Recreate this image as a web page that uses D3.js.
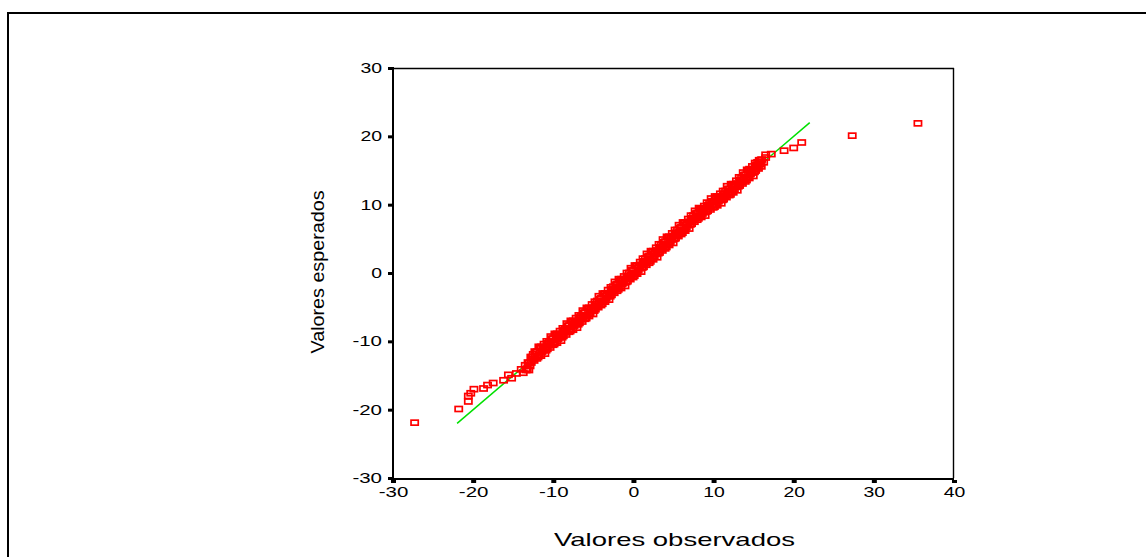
<!DOCTYPE html>
<html><head><meta charset="utf-8">
<script src="https://cdn.jsdelivr.net/npm/d3@7"></script>
<style>body{margin:0;background:#fff}svg{display:block}text{font-family:"Liberation Sans",Arial,sans-serif}</style>
</head><body>
<svg id="c" width="1146" height="557"></svg>
<script>
const xTicks = [-30,-20,-10,0,10,20,30,40];
const yTicks = [-30,-20,-10,0,10,20,30];
const xLabel = "Valores observados";
const yLabel = "Valores esperados";
const refLine = [-22, 22];
// tails (isolated points)
const tailObserved = [-27.3,-21.8,-20.6,-20.6,-20.3,-19.9,-18.7,-18.2,-17.5,-16.2,-15.6,-15.2,-14.6,
  16.5,17.2,18.8,20.0,21.0,27.3,35.5];
const tailExpected = [-21.9,-19.9,-18.8,-18.0,-17.6,-17.0,-16.9,-16.4,-16.1,-15.7,-14.9,-15.4,-14.7,
  17.3,17.4,17.9,18.3,19.1,20.1,21.9];
// dense central band, part A
const bandAObserved = [
 -14,-13.75,-13.5,-13.25,-13,-12.75,-12.5,-12.25,
 -12,-11.75,-11.5,-11.25,-11,-10.75,-10.5,-10.25,
 -10,-9.75,-9.5,-9.25,-9,-8.75,-8.5,-8.25,
 -8,-7.75,-7.5,-7.25,-7,-6.75,-6.5,-6.25,
 -6,-5.75,-5.5,-5.25,-5,-4.75,-4.5,-4.25,
 -4,-3.75,-3.5,-3.25,-3,-2.75,-2.5,-2.25,
 -2,-1.75,-1.5,-1.25,-1,-0.75,-0.5,-0.25,
 0,0.25,0.5,0.75,1,1.25,1.5,1.75,
 2,2.25,2.5,2.75,3,3.25,3.5,3.75,
 4,4.25,4.5,4.75,5,5.25,5.5,5.75,
 6,6.25,6.5,6.75,7,7.25,7.5,7.75,
 8,8.25,8.5,8.75,9,9.25,9.5,9.75,
 10,10.25,10.5,10.75,11,11.25,11.5,11.75,
 12,12.25,12.5,12.75,13,13.25,13.5,13.75,
 14,14.25,14.5,14.75,15,15.25,15.5,15.75,
 16,16.25,16.5
];
const bandAExpected = [
 -14.1,-14.6,-13.5,-14.0,-13.2,-13.1,-11.9,-12.2,
 -11.5,-12.0,-10.8,-11.3,-10.9,-11.1,-10.0,-10.2,
 -9.6,-10.1,-8.9,-9.4,-9.0,-9.2,-8.1,-8.3,
 -7.7,-8.2,-7.0,-7.5,-7.1,-7.3,-6.2,-6.4,
 -5.8,-6.2,-5.1,-5.5,-5.1,-5.3,-4.1,-4.4,
 -3.7,-4.1,-3.0,-3.4,-3.0,-3.2,-2.0,-2.3,
 -1.6,-2.1,-0.9,-1.4,-0.9,-1.2,0.0,-0.3,
 0.4,0.0,1.1,0.7,1.2,0.9,2.1,1.8,
 2.5,2.1,3.2,2.8,3.3,3.0,4.2,3.9,
 4.6,4.2,5.3,4.9,5.4,5.1,6.3,6.0,
 6.7,6.3,7.4,7.0,7.5,7.2,8.4,8.1,
 8.8,8.3,9.4,8.9,9.4,9.1,10.2,9.9,
 10.5,10.0,11.2,10.7,11.1,10.8,12.0,11.7,
 12.3,11.9,13.0,12.6,13.1,12.8,14.0,13.7,
 14.4,14.0,15.2,14.7,15.2,15.0,16.2,15.9,
 16.6,16.2,16.9
];
// dense central band, part B
const bandBObserved = [
 -13.4,-13.15,-12.9,-12.65,-12.4,-12.15,
 -11.9,-11.65,-11.4,-11.15,-10.9,-10.65,-10.4,-10.15,
 -9.9,-9.65,-9.4,-9.15,-8.9,-8.65,-8.4,-8.15,
 -7.9,-7.65,-7.4,-7.15,-6.9,-6.65,-6.4,-6.15,
 -5.9,-5.65,-5.4,-5.15,-4.9,-4.65,-4.4,-4.15,
 -3.9,-3.65,-3.4,-3.15,-2.9,-2.65,-2.4,-2.15,
 -1.9,-1.65,-1.4,-1.15,-0.9,-0.65,-0.4,-0.15,
 0.1,0.35,0.6,0.85,1.1,1.35,1.6,1.85,
 2.1,2.35,2.6,2.85,3.1,3.35,3.6,3.85,
 4.1,4.35,4.6,4.85,5.1,5.35,5.6,5.85,
 6.1,6.35,6.6,6.85,7.1,7.35,7.6,7.85,
 8.1,8.35,8.6,8.85,9.1,9.35,9.6,9.85,
 10.1,10.35,10.6,10.85,11.1,11.35,11.6,11.85,
 12.1,12.35,12.6,12.85,13.1,13.35,13.6,13.85,
 14.1,14.35,14.6,14.85,15.1,15.35,15.6,15.85
];
const bandBExpected = [
 -14.2,-13.1,-13.6,-12.3,-12.8,-11.6,
 -12.3,-11.0,-11.5,-10.4,-11.3,-10.3,-10.9,-9.6,
 -10.4,-9.1,-9.6,-8.5,-9.4,-8.4,-9.0,-7.7,
 -8.5,-7.2,-7.7,-6.6,-7.5,-6.5,-7.1,-5.8,
 -6.6,-5.2,-5.8,-4.6,-5.5,-4.5,-5.0,-3.8,
 -4.5,-3.1,-3.7,-2.5,-3.4,-2.4,-2.9,-1.7,
 -2.4,-1.1,-1.6,-0.5,-1.3,-0.4,-0.9,0.4,
 -0.4,1.0,0.4,1.6,0.8,1.7,1.2,2.4,
 1.7,3.1,2.5,3.7,2.9,3.8,3.3,4.5,
 3.8,5.2,4.6,5.8,5.0,5.9,5.4,6.6,
 5.9,7.3,6.7,7.9,7.1,8.0,7.5,8.7,
 8.0,9.3,8.7,9.8,9.0,9.9,9.3,10.5,
 9.7,11.0,10.5,11.6,10.7,11.6,11.1,12.3,
 11.5,12.9,12.3,13.5,12.7,13.6,13.1,14.3,
 13.6,15.0,14.5,15.6,14.8,15.8,15.3,16.5
];
// dense central band, part C
const bandCObserved = [
 -13.05,-12.8,-12.55,-12.3,-12.05,
 -11.8,-11.55,-11.3,-11.05,-10.8,-10.55,-10.3,-10.05,
 -9.8,-9.55,-9.3,-9.05,-8.8,-8.55,-8.3,-8.05,
 -7.8,-7.55,-7.3,-7.05,-6.8,-6.55,-6.3,-6.05,
 -5.8,-5.55,-5.3,-5.05,-4.8,-4.55,-4.3,-4.05,
 -3.8,-3.55,-3.3,-3.05,-2.8,-2.55,-2.3,-2.05,
 -1.8,-1.55,-1.3,-1.05,-0.8,-0.55,-0.3,-0.05,
 0.2,0.45,0.7,0.95,1.2,1.45,1.7,1.95,
 2.2,2.45,2.7,2.95,3.2,3.45,3.7,3.95,
 4.2,4.45,4.7,4.95,5.2,5.45,5.7,5.95,
 6.2,6.45,6.7,6.95,7.2,7.45,7.7,7.95,
 8.2,8.45,8.7,8.95,9.2,9.45,9.7,9.95,
 10.2,10.45,10.7,10.95,11.2,11.45,11.7,11.95,
 12.2,12.45,12.7,12.95,13.2,13.45,13.7,13.95,
 14.2,14.45,14.7,14.95,15.2,15.45,15.7,15.95
];
const bandCExpected = [
 -14.2,-12.3,-12.6,-11.5,-12.5,
 -10.8,-12.1,-11.0,-11.8,-10.0,-10.6,-9.3,-10.5,
 -8.9,-10.2,-9.1,-9.9,-8.1,-8.7,-7.4,-8.6,
 -7.0,-8.3,-7.2,-8.0,-6.2,-6.8,-5.5,-6.7,
 -5.1,-6.3,-5.3,-6.0,-4.2,-4.8,-3.4,-4.7,
 -3.0,-4.2,-3.2,-3.9,-2.1,-2.7,-1.3,-2.6,
 -0.9,-2.2,-1.1,-1.9,0.0,-0.7,0.7,-0.6,
 1.1,-0.1,0.9,0.2,2.1,1.4,2.8,1.5,
 3.2,2.0,3.0,2.3,4.2,3.5,4.9,3.6,
 5.3,4.1,5.1,4.4,6.3,5.6,7.0,5.7,
 7.4,6.2,7.2,6.5,8.4,7.7,9.1,7.8,
 9.5,8.2,9.2,8.4,10.3,9.6,10.9,9.6,
 11.2,9.9,11.0,10.2,12.0,11.3,12.7,11.4,
 13.0,11.8,12.8,12.1,14.0,13.3,14.7,13.4,
 15.1,13.9,15.0,14.2,16.1,15.5,16.5,15.6
];

const svg = d3.select("#c");
const L = 393, R = 954, T = 68, B = 478;
const x = d3.scaleLinear().domain([-30, 40]).range([L, R]);
const y = d3.scaleLinear().domain([-30, 30]).range([B, T]);

// outer frame
svg.append("rect").attr("x", 8).attr("y", 13).attr("width", 1160).attr("height", 570)
  .attr("fill", "none").attr("stroke", "#000").attr("stroke-width", 2);

// plot box
svg.append("line").attr("x1", L).attr("x2", R).attr("y1", T + 0.5).attr("y2", T + 0.5).attr("stroke", "#000").attr("stroke-width", 1.4);
svg.append("line").attr("x1", R - 0.5).attr("x2", R - 0.5).attr("y1", T).attr("y2", B).attr("stroke", "#000").attr("stroke-width", 1.4);

// axes
const fmt = d => String(d);
const ya = svg.append("g").attr("transform", `translate(${L - 1},0)`)
  .call(d3.axisLeft(y).tickValues(yTicks).tickFormat(fmt).tickSizeInner(4).tickSizeOuter(0).tickPadding(6));
const xa = svg.append("g").attr("transform", `translate(0,${B + 2})`)
  .call(d3.axisBottom(x).tickValues(xTicks).tickFormat(fmt).tickSizeInner(3).tickSizeOuter(0).tickPadding(4));
[ya, xa].forEach(g => {
  g.select(".domain").remove();
  g.selectAll(".tick text").attr("font-size", 14).attr("fill", "#000")
    .attr("font-family", "'Liberation Sans',Arial,sans-serif")
    .attr("textLength", d => String(Math.abs(d)).length * 10.8 + (d < 0 ? 8 : 0))
    .attr("lengthAdjust", "spacingAndGlyphs");
});
ya.selectAll(".tick line").attr("stroke", "#000").attr("stroke-width", 3);
xa.selectAll(".tick line").attr("stroke", "#000").attr("stroke-width", 5);

svg.append("line").attr("x1", L).attr("x2", L).attr("y1", T - 1).attr("y2", B + 1).attr("stroke", "#000").attr("stroke-width", 2);
svg.append("line").attr("x1", L - 1).attr("x2", R).attr("y1", B + 1).attr("y2", B + 1).attr("stroke", "#000").attr("stroke-width", 2);

// reference line
svg.append("line")
  .attr("x1", x(refLine[0])).attr("y1", y(refLine[0]))
  .attr("x2", x(refLine[1])).attr("y2", y(refLine[1]))
  .attr("stroke", "#00e000").attr("stroke-width", 1.5);

// points
const pts = [];
[[tailObserved, tailExpected], [bandAObserved, bandAExpected], [bandBObserved, bandBExpected], [bandCObserved, bandCExpected]]
  .forEach(([obs, exp]) => obs.forEach((o, i) => pts.push({o, e: exp[i]})));
const w = 7.2, h = 5;
svg.append("g").selectAll("rect").data(pts).join("rect")
  .attr("x", d => x(d.o) - w / 2).attr("y", d => y(d.e) - h / 2)
  .attr("width", w).attr("height", h)
  .attr("fill", "none").attr("stroke", "#ff0000").attr("stroke-width", 1.7);

// axis titles
svg.append("text").attr("x", (L + R) / 2 + 1).attr("y", 546).attr("text-anchor", "middle")
  .attr("font-size", 19).attr("textLength", 241).attr("lengthAdjust", "spacingAndGlyphs").text(xLabel);
svg.append("text").attr("transform", `translate(324,${(T + B) / 2 - 1}) rotate(-90)`).attr("text-anchor", "middle")
  .attr("font-size", 18).attr("textLength", 163).attr("lengthAdjust", "spacingAndGlyphs").text(yLabel);
</script>
</body></html>
